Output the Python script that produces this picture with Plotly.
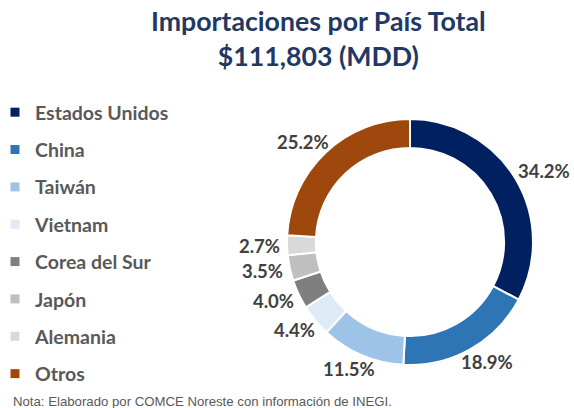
import math
import plotly.graph_objects as go

categories = ["Estados Unidos", "China", "Taiwán", "Vietnam", "Corea del Sur", "Japón", "Alemania", "Otros"]
shares = [34.2, 18.9, 11.5, 4.4, 4.0, 3.5, 2.7, 25.2]
share_labels = ["34.2%", "18.9%", "11.5%", "4.4%", "4.0%", "3.5%", "2.7%", "25.2%"]
colors = ["#002060", "#2E75B6", "#9DC3E6", "#DEEBF7", "#7F7F7F", "#BFBFBF", "#D9D9D9", "#9E480E"]

title_text = "Importaciones por País Total<br>$111,803 (MDD)"
note_text = "Nota: Elaborado por COMCE Noreste con información de INEGI."

W, H = 574, 408
cx, cy, r = 410, 242, 123
label_font = 18.5

fig = go.Figure()
fig.add_trace(go.Pie(
    labels=categories, values=shares, textinfo="none",
    hole=0.765, sort=False, direction="clockwise", rotation=0,
    marker=dict(colors=colors, line=dict(color="white", width=2)),
    domain=dict(x=[(cx - r) / W, (cx + r) / W], y=[1 - (cy + r) / H, 1 - (cy - r) / H]),
    showlegend=False,
))
for i, (c, col) in enumerate(zip(categories, colors)):
    fig.add_trace(go.Scatter(
        x=[None], y=[None], mode="markers", name=c, legendgroup=f"g{i}",
        marker=dict(symbol="square", size=9, color=col),
    ))

# data labels placed just outside each slice, at the slice's mid angle
annotations = []
total = sum(shares)
cum = 0.0
for v, lab in zip(shares, share_labels):
    theta = 2 * math.pi * (cum + v / 2) / total
    cum += v
    s, c = math.sin(theta), math.cos(theta)
    w_est = 0.58 * label_font * len(lab)
    h_est = label_font
    ax = cx + (r + 6) * s + w_est / 2 * s
    ay = cy - (r + 6) * c - h_est / 2 * c
    annotations.append(dict(
        text=lab, x=ax / W, y=1 - ay / H, xref="paper", yref="paper",
        xanchor="center", yanchor="middle", showarrow=False,
        font=dict(family="Lato", size=label_font, color="#404040", weight="bold")))

annotations += [
    dict(text=title_text, x=318 / W, xanchor="center", y=1 - 3 / H, yanchor="top",
         xref="paper", yref="paper", showarrow=False,
         font=dict(family="Lato", size=26.7, color="#1F3864", weight="bold")),
    dict(text=note_text, x=11 / W, xanchor="left", y=0, yanchor="bottom", yshift=-3,
         xref="paper", yref="paper", showarrow=False,
         font=dict(family="Liberation Sans", size=13.2, color="#595959")),
]

fig.update_layout(
    width=W, height=H,
    margin=dict(l=0, r=0, t=0, b=0, autoexpand=False),
    paper_bgcolor="white", plot_bgcolor="white",
    xaxis=dict(visible=False), yaxis=dict(visible=False),
    legend=dict(x=-5 / W, xanchor="left", y=1 - 93 / H, yanchor="top",
                traceorder="grouped", tracegroupgap=9, itemwidth=30,
                font=dict(family="Lato", size=19.5, color="#595959", weight="bold"),
                bgcolor="rgba(0,0,0,0)"),
    annotations=annotations,
)
fig.write_html("out.html", config={"displayModeBar": False},
               post_script="document.body.style.margin='0';document.body.style.overflow='hidden';")
